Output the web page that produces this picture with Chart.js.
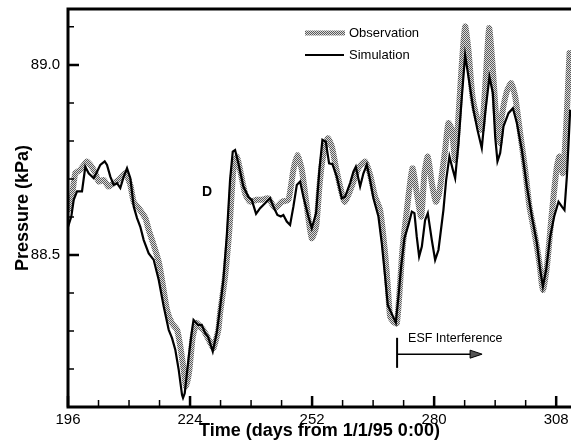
<!DOCTYPE html>
<html>
<head>
<meta charset="utf-8">
<script src="https://cdn.jsdelivr.net/npm/chart.js@4.4.1/dist/chart.umd.min.js"></script>
<style>
html,body{margin:0;padding:0;background:#fff;}
canvas{display:block;}
</style>
</head>
<body>
<canvas id="c" width="571" height="442"></canvas>
<script>
// ---- data (day of year 1995, pressure kPa) ----
const simDays = [196.0,196.76,197.31,198.07,199.21,199.97,200.75,201.90,202.66,203.41,204.42,204.95,205.71,206.49,207.25,208.00,208.78,209.54,210.30,211.08,211.84,212.59,213.37,214.52,215.67,216.82,217.96,219.11,219.87,220.63,221.41,222.16,222.39,222.78,223.70,224.46,224.80,225.84,226.69,227.44,228.13,229.21,230.13,230.89,231.64,232.42,233.18,233.80,234.33,235.09,236.23,237.38,238.16,239.15,240.07,241.21,242.36,243.12,244.04,244.82,245.41,246.19,246.95,247.71,248.49,249.25,250.00,251.15,251.93,252.92,253.68,254.37,255.14,255.90,256.66,257.67,258.82,259.57,260.72,261.48,262.03,263.02,263.78,264.55,265.31,266.07,267.22,267.99,268.75,269.37,270.29,271.21,271.81,272.43,273.18,274.10,274.88,275.48,276.01,276.56,277.18,277.93,278.55,279.47,280.23,280.99,282.13,282.75,283.51,284.29,284.82,285.58,286.36,287.11,287.87,289.02,289.94,290.93,291.71,292.69,293.47,294.00,294.53,295.15,295.91,297.06,298.07,298.98,300.13,301.28,302.42,303.57,304.33,304.95,305.70,306.62,307.54,308.53,309.31,309.90,310.45,311.21];
const simValues = [88.574,88.601,88.645,88.667,88.667,88.732,88.715,88.702,88.719,88.737,88.746,88.737,88.706,88.684,88.689,88.676,88.706,88.728,88.702,88.627,88.597,88.574,88.539,88.504,88.487,88.434,88.364,88.303,88.281,88.250,88.197,88.132,88.124,88.136,88.232,88.303,88.329,88.316,88.316,88.295,88.285,88.246,88.295,88.361,88.434,88.548,88.697,88.772,88.776,88.741,88.680,88.653,88.645,88.608,88.623,88.636,88.649,88.627,88.605,88.601,88.605,88.588,88.579,88.627,88.684,88.693,88.653,88.601,88.570,88.610,88.724,88.803,88.798,88.741,88.739,88.706,88.649,88.653,88.689,88.719,88.732,88.680,88.715,88.737,88.697,88.649,88.601,88.531,88.443,88.368,88.345,88.322,88.390,88.469,88.544,88.579,88.614,88.610,88.548,88.496,88.522,88.592,88.610,88.539,88.487,88.513,88.618,88.697,88.759,88.724,88.702,88.794,88.917,89.026,88.969,88.882,88.829,88.781,88.873,88.969,88.926,88.811,88.746,88.768,88.838,88.873,88.886,88.847,88.776,88.680,88.601,88.531,88.461,88.417,88.461,88.548,88.601,88.640,88.627,88.618,88.706,88.882];

const obsDays = [196.3,196.92,197.68,198.82,200.36,201.12,202.27,203.05,204.19,205.34,206.49,207.64,209.15,210.30,211.08,212.23,213.74,214.52,215.67,216.82,217.57,218.72,219.87,221.02,221.77,222.55,223.08,223.84,224.62,225.54,226.30,227.06,228.20,229.35,229.74,230.50,230.89,232.03,233.02,233.94,234.72,235.48,236.62,237.77,239.31,240.46,241.97,243.51,245.05,246.56,247.71,248.63,249.64,250.79,251.93,252.92,253.68,254.37,255.61,256.53,257.44,258.43,259.42,260.33,261.48,262.63,264.16,265.31,266.46,267.61,268.75,269.37,269.90,270.66,271.44,272.20,272.72,273.74,275.02,276.03,277.02,277.78,278.55,279.47,280.39,281.15,282.52,283.28,284.06,284.82,285.58,286.36,287.11,287.87,288.79,289.94,290.93,291.86,292.61,293.37,294.22,294.98,295.52,296.67,297.67,298.59,299.74,300.89,301.87,303.18,304.17,304.95,305.87,307.01,308.16,308.76,309.54,310.30,311.06];
const obsValues = [88.620,88.653,88.715,88.724,88.746,88.737,88.715,88.693,88.697,88.680,88.689,88.697,88.715,88.684,88.640,88.623,88.597,88.566,88.526,88.482,88.434,88.355,88.320,88.303,88.259,88.197,88.153,88.197,88.285,88.321,88.311,88.303,88.279,88.255,88.268,88.303,88.347,88.443,88.566,88.724,88.759,88.724,88.662,88.640,88.645,88.645,88.649,88.623,88.640,88.645,88.724,88.763,88.724,88.627,88.544,88.574,88.680,88.750,88.807,88.785,88.732,88.680,88.640,88.658,88.693,88.728,88.746,88.711,88.653,88.618,88.504,88.417,88.338,88.324,88.320,88.426,88.513,88.618,88.728,88.662,88.601,88.715,88.759,88.689,88.640,88.662,88.776,88.847,88.829,88.750,88.864,89.004,89.101,89.039,88.917,88.855,88.829,88.969,89.097,89.004,88.864,88.794,88.864,88.930,88.952,88.917,88.820,88.724,88.627,88.548,88.478,88.408,88.469,88.610,88.732,88.759,88.715,88.838,89.031];

const seriesNames = ['Observation', 'Simulation'];
const xMajorTicks = [196, 224, 252, 280, 308];
const xMinorTicks = [203, 210, 217, 231, 238, 245, 259, 266, 273, 287, 294, 301];
const yMajorTicks = [88.5, 89.0];
const yMinorTicks = [88.2, 88.3, 88.4, 88.6, 88.7, 88.8, 88.9, 89.1];
const xTitle = 'Time (days from 1/1/95 0:00)';
const yTitle = 'Pressure (kPa)';
const panelLabel = 'D';
const esfLabel = 'ESF Interference';
// annotation anchors in data units
const esfStart = 271.5, esfEnd = 291.0, esfY = 88.239, esfBarTop = 88.282, esfBarBottom = 88.203;

const FONT = "'Liberation Sans', Arial, Helvetica, sans-serif";

// stipple pattern for the observation band
function makePattern() {
  const pc = document.createElement('canvas');
  pc.width = 2; pc.height = 2;
  const g = pc.getContext('2d');
  g.fillStyle = '#dcdcdc'; g.fillRect(0, 0, 2, 2);
  g.fillStyle = '#5a5a5a'; g.fillRect(0, 0, 1, 1); g.fillRect(1, 1, 1, 1);
  return document.getElementById('c').getContext('2d').createPattern(pc, 'repeat');
}
const stipple = makePattern();

const toPts = (xs, ys) => xs.map((d, i) => ({x: d, y: ys[i]}));

const decor = {
  id: 'decor',
  afterDraw(chart) {
    const {ctx, chartArea: a, scales: {x, y}} = chart;
    ctx.save();
    ctx.strokeStyle = '#000';
    ctx.lineCap = 'butt';
    // frame
    ctx.lineWidth = 3;
    ctx.beginPath();
    ctx.moveTo(a.left - 1.5, a.top); ctx.lineTo(a.right, a.top);
    ctx.moveTo(a.left, a.top); ctx.lineTo(a.left, a.bottom);
    ctx.moveTo(a.left - 1.5, a.bottom); ctx.lineTo(a.right, a.bottom);
    ctx.stroke();
    // ticks (inward)
    ctx.lineWidth = 2.5;
    ctx.beginPath();
    xMajorTicks.forEach(v => { const px = x.getPixelForValue(v); ctx.moveTo(px, a.bottom); ctx.lineTo(px, a.bottom - 11); });
    yMajorTicks.forEach(v => { const py = y.getPixelForValue(v); ctx.moveTo(a.left, py); ctx.lineTo(a.left + 11, py); });
    ctx.stroke();
    ctx.lineWidth = 1.5;
    ctx.beginPath();
    xMinorTicks.forEach(v => { const px = x.getPixelForValue(v); ctx.moveTo(px, a.bottom); ctx.lineTo(px, a.bottom - 7); });
    yMinorTicks.forEach(v => { const py = y.getPixelForValue(v); ctx.moveTo(a.left, py); ctx.lineTo(a.left + 6, py); });
    ctx.stroke();

    // legend
    const lx = 305, ly1 = 33, ly2 = 55;
    ctx.strokeStyle = stipple; ctx.lineWidth = 5;
    ctx.beginPath(); ctx.moveTo(lx, ly1); ctx.lineTo(lx + 40, ly1); ctx.stroke();
    ctx.strokeStyle = '#000'; ctx.lineWidth = 2;
    ctx.beginPath(); ctx.moveTo(lx, ly2); ctx.lineTo(lx + 39, ly2); ctx.stroke();
    ctx.fillStyle = '#000';
    ctx.font = '13px ' + FONT;
    ctx.textBaseline = 'middle'; ctx.textAlign = 'left';
    ctx.fillText(seriesNames[0], 349, ly1);
    ctx.fillText(seriesNames[1], 349, ly2);

    // panel label
    ctx.font = 'bold 14px ' + FONT;
    ctx.textAlign = 'center';
    ctx.fillText(panelLabel, 207, 192);

    // ESF annotation
    const sx = x.getPixelForValue(esfStart), ex = x.getPixelForValue(esfEnd), ay = y.getPixelForValue(esfY);
    ctx.strokeStyle = '#000'; ctx.lineWidth = 2;
    ctx.beginPath();
    ctx.moveTo(sx, y.getPixelForValue(esfBarTop)); ctx.lineTo(sx, y.getPixelForValue(esfBarBottom));
    ctx.stroke();
    ctx.lineWidth = 1.5;
    ctx.beginPath(); ctx.moveTo(sx, ay); ctx.lineTo(ex - 10, ay); ctx.stroke();
    ctx.fillStyle = '#555';
    ctx.beginPath(); ctx.moveTo(ex, ay); ctx.lineTo(ex - 12, ay - 4); ctx.lineTo(ex - 12, ay + 4); ctx.closePath(); ctx.fill();
    ctx.strokeStyle = '#000'; ctx.lineWidth = 1; ctx.stroke();
    ctx.fillStyle = '#000';
    ctx.font = '12.5px ' + FONT;
    ctx.textAlign = 'left';
    ctx.fillText(esfLabel, sx + 11, y.getPixelForValue(esfBarTop) + 1);
    ctx.restore();
  }
};

new Chart(document.getElementById('c'), {
  type: 'line',
  data: {
    datasets: [
      { label: seriesNames[1], data: toPts(simDays, simValues), borderColor: '#000', borderWidth: 2.2, pointRadius: 0, tension: 0, order: 0, fill: false },
      { label: seriesNames[0], data: toPts(obsDays, obsValues), borderColor: stipple, borderWidth: 6, pointRadius: 0, tension: 0.2, order: 1, fill: false, borderJoinStyle: 'round', borderCapStyle: 'round' }
    ]
  },
  options: {
    responsive: false,
    animation: false,
    devicePixelRatio: 1,
    layout: { padding: { top: 9, right: 0, left: 0, bottom: 0 } },
    plugins: { legend: { display: false }, tooltip: { enabled: false } },
    scales: {
      x: {
        type: 'linear', min: 196, max: 311.4,
        afterFit(s) { s.height = 35; s.paddingLeft = 0; s.paddingRight = 0; },
        grid: { display: false, drawTicks: false },
        border: { display: false },
        ticks: {
          stepSize: 7, autoSkip: false, maxRotation: 0, padding: 4, includeBounds: false,
          color: '#000', font: { family: FONT, size: 15 },
          callback: v => xMajorTicks.includes(v) ? String(v) : ''
        },
        title: { display: true, text: xTitle, color: '#000', font: { family: FONT, size: 18, weight: 'bold' }, padding: { top: 0, bottom: 0 } }
      },
      y: {
        type: 'linear', min: 88.1, max: 89.147,
        afterFit(s) { s.width = 68; s.paddingTop = 0; s.paddingBottom = 0; },
        grid: { display: false, drawTicks: false },
        border: { display: false },
        ticks: {
          stepSize: 0.1, autoSkip: false, padding: 8, includeBounds: false,
          color: '#000', font: { family: FONT, size: 15 },
          callback: v => yMajorTicks.some(t => Math.abs(t - v) < 1e-6) ? v.toFixed(1) : ''
        },
        title: { display: true, text: yTitle, color: '#000', font: { family: FONT, size: 18, weight: 'bold' }, padding: { top: 12, bottom: 0 } }
      }
    }
  },
  plugins: [decor]
});
</script>
</body>
</html>
